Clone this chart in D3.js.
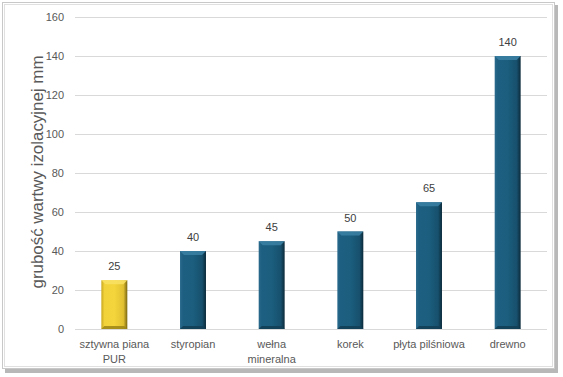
<!DOCTYPE html>
<html><head><meta charset="utf-8">
<script src="https://cdn.jsdelivr.net/npm/d3@7"></script>
<style>body{margin:0;background:#fff}svg{display:block}</style>
</head><body>
<svg id="c" width="563" height="377"></svg>
<script>
const categories = [["sztywna piana","PUR"],["styropian"],["wełna","mineralna"],["korek"],["płyta pilśniowa"],["drewno"]];
const values = [25,40,45,50,65,140];
const highlight = [true,false,false,false,false,false];
const yTicks = [0,20,40,60,80,100,120,140,160];
const yTitle = "grubość wartwy izolacyjnej mm";

const svg = d3.select("#c");
// frame with shadow
svg.append("rect").attr("x",5).attr("y",5).attr("width",553).attr("height",368).attr("fill","#b8b8b8");
svg.append("rect").attr("x",2.5).attr("y",2.5).attr("width",552).attr("height",366).attr("fill","#fff").attr("stroke","#c8c8c8").attr("stroke-width",1);
svg.append("rect").attr("x",4.5).attr("y",4.5).attr("width",548).attr("height",362).attr("fill","none").attr("stroke","#e0e0e0").attr("stroke-width",1);

const x = d3.scaleBand().domain(d3.range(values.length)).range([75,547]).paddingInner(0.67).paddingOuter(0.335);
const y = d3.scaleLinear().domain([0,160]).range([329,17]);

const defs = svg.append("defs");
function grad(id, stops){
  const g = defs.append("linearGradient").attr("id",id).attr("x1","0").attr("x2","1").attr("y1","0").attr("y2","0");
  stops.forEach(s=>g.append("stop").attr("offset",s[0]).attr("stop-color",s[1]));
}
grad("gb",[[0,"#2a6a8c"],[0.12,"#1d5f80"],[0.5,"#1b5e7e"],[0.85,"#17506d"],[1,"#0b2a3a"]]);
grad("gy",[[0,"#c8a820"],[0.12,"#f2d23a"],[0.5,"#f5d53c"],[0.85,"#e0c030"],[1,"#7a6510"]]);

// grid
svg.append("g").selectAll("line").data(yTicks).join("line")
  .attr("x1",75).attr("x2",547).attr("y1",d=>Math.round(y(d))+0.5).attr("y2",d=>Math.round(y(d))+0.5)
  .attr("stroke","#d9d9d9").attr("stroke-width",1);

// y axis labels
const yAxis = d3.axisLeft(y).tickValues(yTicks).tickSize(0).tickPadding(0);
const ga = svg.append("g").attr("transform","translate(64,0)").call(yAxis);
ga.select(".domain").remove();
ga.selectAll("text").attr("font-family","Liberation Sans, Arial, sans-serif").attr("font-size","11px").attr("fill","#595959");

// y title
const tt = svg.append("text").attr("transform","translate(43,172) rotate(-90)").attr("text-anchor","middle")
  .attr("font-family","Liberation Sans, Arial, sans-serif").attr("font-size","15px").attr("fill","#595959").text(yTitle);
const len = tt.node().getComputedTextLength();
tt.attr("font-size", (15*233/len).toFixed(2)+"px");

// bars
const bars = svg.append("g").selectAll("g").data(values).join("g");
bars.append("rect").attr("x",(d,i)=>x(i)).attr("y",d=>y(d)).attr("width",x.bandwidth()).attr("height",d=>y(0)-y(d))
  .attr("fill",(d,i)=>highlight[i]?"url(#gy)":"url(#gb)");
bars.append("path").attr("d",(d,i)=>{const x0=x(i),x1=x(i)+x.bandwidth(),t=y(d),b=4;return `M${x0},${t}L${x1},${t}L${x1-b},${t+b}L${x0+b},${t+b}Z`;})
  .attr("fill",(d,i)=>highlight[i]?"#f8e060":"#3a7fa3").attr("opacity",0.9);
bars.append("path").attr("d",(d,i)=>{const x0=x(i),x1=x(i)+x.bandwidth(),bt=y(0),b=3;return `M${x0},${bt}L${x1},${bt}L${x1-b},${bt-b}L${x0+b},${bt-b}Z`;})
  .attr("fill",(d,i)=>highlight[i]?"#a08818":"#123f56").attr("opacity",0.9);

// value labels
svg.append("g").selectAll("text").data(values).join("text")
  .attr("x",(d,i)=>x(i)+x.bandwidth()/2).attr("y",d=>y(d)-10).attr("text-anchor","middle")
  .attr("font-family","Liberation Sans, Arial, sans-serif").attr("font-size","11px").attr("fill","#404040").text(d=>d);

// category labels
const cl = svg.append("g").selectAll("text").data(categories).join("text")
  .attr("x",(d,i)=>x(i)+x.bandwidth()/2).attr("y",348).attr("text-anchor","middle")
  .attr("font-family","Liberation Sans, Arial, sans-serif").attr("font-size","11px").attr("fill","#595959");
cl.selectAll("tspan").data(d=>d).join("tspan").attr("x",function(){return this.parentNode.getAttribute("x");})
  .attr("dy",(d,j)=>j?15:0).text(d=>d);
</script>
</body></html>
